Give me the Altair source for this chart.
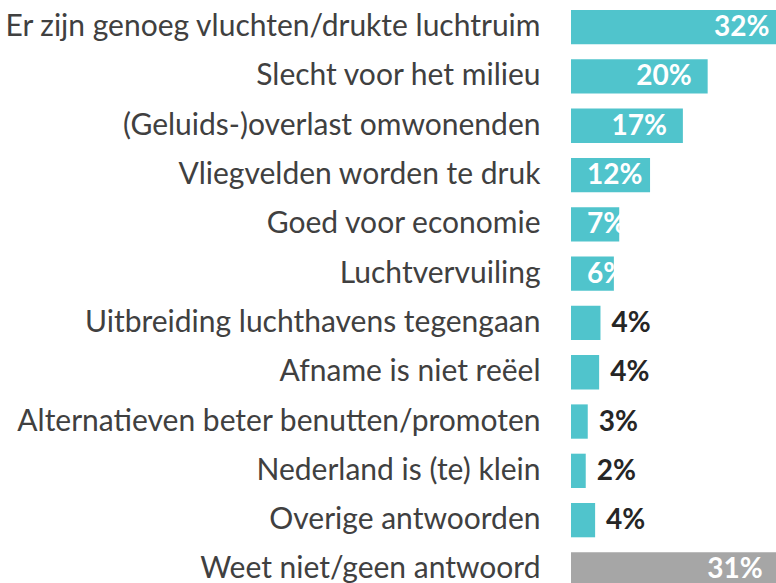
import altair as alt
import pandas as pd

categories = [
    "Er zijn genoeg vluchten/drukte luchtruim",
    "Slecht voor het milieu",
    "(Geluids-)overlast omwonenden",
    "Vliegvelden worden te druk",
    "Goed voor economie",
    "Luchtvervuiling",
    "Uitbreiding luchthavens tegengaan",
    "Afname is niet reëel",
    "Alternatieven beter benutten/promoten",
    "Nederland is (te) klein",
    "Overige antwoorden",
    "Weet niet/geen antwoord",
]
values = [32, 20.4, 16.7, 11.8, 7.2, 6.4, 4.4, 4.2, 2.5, 2.2, 3.6, 31]
value_labels = ["32%", "20%", "17%", "12%", "7%", "6%", "4%", "4%", "3%", "2%", "4%", "31%"]
kinds = ["answer"] * 11 + ["unknown"]

df = pd.DataFrame({"cat": categories, "val": values, "lab": value_labels, "kind": kinds})

FONT = "Lato"

y = alt.Y(
    "cat:N",
    sort=None,
    scale=alt.Scale(range=[0, 596.6], paddingInner=0.304, paddingOuter=0.203),
    axis=alt.Axis(
        title=None, ticks=False, domain=False, labelPadding=31,
        labelFontSize=30, labelFont=FONT, labelColor="#404040", labelLimit=700,
    ),
)
xscale = alt.Scale(domain=[0, 30.6], nice=False)
x = alt.X("val:Q", scale=xscale, axis=None)

base = alt.Chart(df)

bars = base.mark_bar().encode(
    x=x, y=y,
    color=alt.Color("kind:N", scale=alt.Scale(domain=["answer", "unknown"], range=["#50C4CC", "#A6A6A6"]), legend=None),
)

txt_end = base.transform_filter("datum.val >= 13").mark_text(
    align="right", baseline="middle", dx=-16, dy=1, font=FONT, fontSize=28, fontWeight="bold", color="white"
).encode(x=x, y=y, text="lab:N")

txt_start = base.transform_filter("datum.val >= 6 && datum.val < 13").transform_calculate(
    start="0"
).mark_text(
    align="left", baseline="middle", dx=16, dy=1, font=FONT, fontSize=28, fontWeight="bold", color="white"
).encode(x=alt.X("start:Q", scale=xscale, axis=None), y=y, text="lab:N")

txt_out = base.transform_filter("datum.val < 6").mark_text(
    align="left", baseline="middle", dx=11, dy=1, font=FONT, fontSize=28, fontWeight="bold", color="#262626"
).encode(x=x, y=y, text="lab:N")

chart = alt.layer(bars, txt_end, txt_start, txt_out).properties(
    width=205, height=583, autosize="none",
    padding={"left": 571, "top": 0, "right": 0, "bottom": 0},
    background="white",
).configure_view(stroke=None)

chart.save("out.html", embed_options={"renderer": "svg", "actions": False})
